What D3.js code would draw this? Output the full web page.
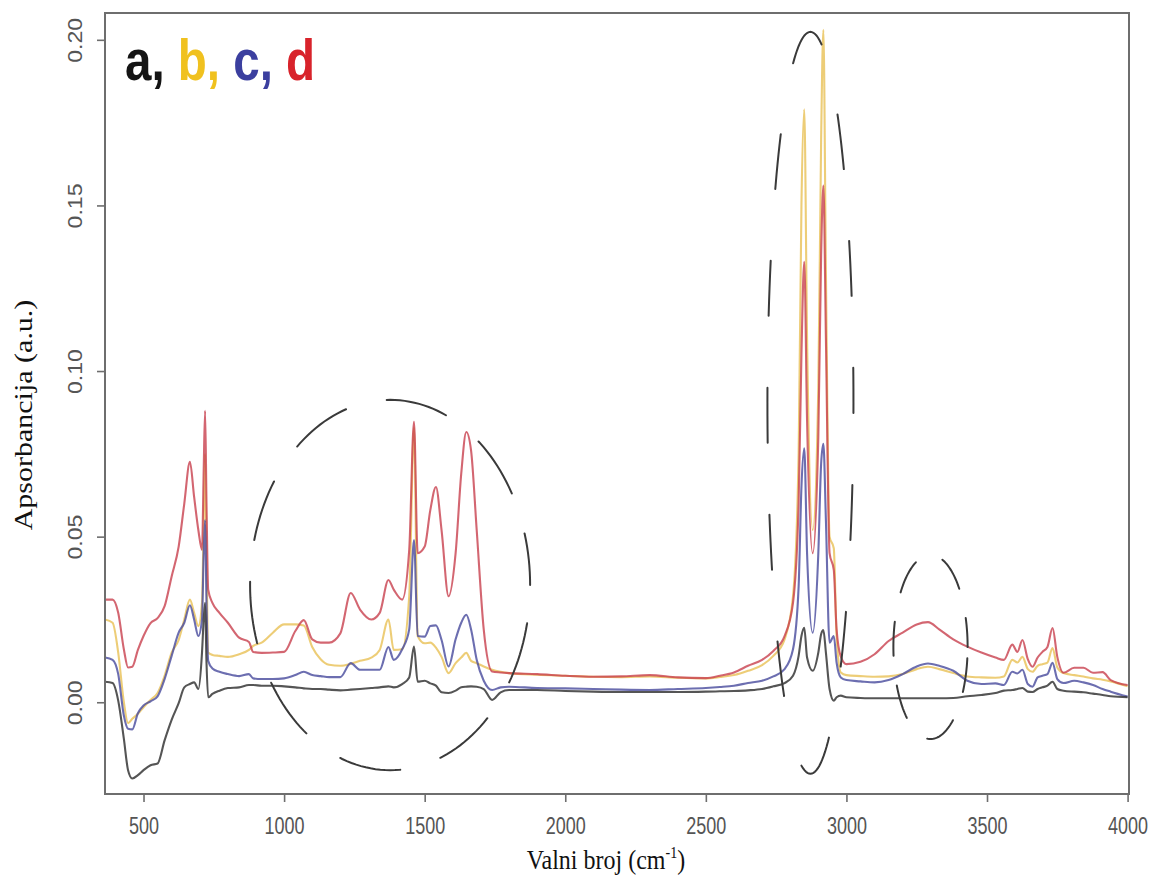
<!DOCTYPE html>
<html>
<head>
<meta charset="utf-8">
<script src="https://cdn.jsdelivr.net/npm/d3@7"></script>
<style>
  html, body { margin: 0; padding: 0; background: #fff; }
  svg { display: block; }
</style>
</head>
<body>
<svg id="chart" width="1153" height="881"></svg>
<script>
// ---------------- DATA ----------------
const wavenumbers = [
  363, 390, 410, 430, 445, 460, 480, 500, 525, 550,
  575, 600, 625, 645, 665, 680, 695, 708, 714, 719,
  724, 730, 745, 770, 800, 840, 875, 890, 920, 960,
  1000, 1040, 1070, 1100, 1130, 1160, 1200, 1237, 1270, 1310,
  1340, 1371, 1390, 1420, 1445, 1462, 1475, 1500, 1520, 1540,
  1560, 1585, 1610, 1630, 1648, 1665, 1685, 1710, 1740, 1770,
  1800, 1900, 2000, 2100, 2200, 2300, 2400, 2500, 2550, 2600,
  2650, 2700, 2740, 2780, 2810, 2830, 2840, 2850, 2860, 2880,
  2900, 2910, 2918, 2927, 2940, 2955, 2965, 2980, 3000, 3050,
  3100, 3150, 3200, 3250, 3290, 3330, 3380, 3430, 3480, 3530,
  3560, 3590, 3608, 3626, 3645, 3662, 3680, 3697, 3715, 3733,
  3750, 3772, 3810, 3843, 3877, 3911, 3940, 4000
];

const seriesA = [ // black
  .0062, .0058, .0005, -.011, -.0205, -.023, -.022, -.0205, -.019, -.0185,
  -.0115, -.0053, -.0003, .0045, .0055, .006, .004, .015, .025, .030,
  .012, .0015, .0025, .0035, .0043, .0045, .0052, .0052, .005, .005,
  .0048, .0045, .0042, .004, .004, .0038, .0036, .0038, .004, .0043,
  .0045, .0048, .0045, .0055, .0075, .0168, .0062, .0065, .0057, .005,
  .003, .0028, .0035, .0045, .0047, .0048, .0047, .004, .0007, .003,
  .0037, .0037, .0034, .0032, .0031, .0031, .0031, .0032, .0033, .0034,
  .0036, .004, .0048, .0058, .008, .014, .020, .0225, .0135, .0095,
  .015, .0205, .0218, .015, .004, .0005, .0015, .002, .0015, .0013,
  .0012, .0012, .0012, .0012, .0012, .0012, .0013, .0018, .0022, .0028,
  .0035, .0037, .004, .0043, .0032, .0031, .004, .0045, .005, .0062,
  .004, .0035, .0032, .003, .0026, .0022, .0018, .0015
];

const seriesB = [ // yellow
  .025, .024, .015, .000, -.0063, -.005, -.0035, -.0015, .0007, .0028,
  .008, .015, .0188, .025, .031, .027, .023, .030, .055, .075,
  .045, .015, .0143, .014, .0137, .0145, .0158, .017, .018, .021,
  .0235, .0235, .0232, .0167, .013, .0113, .011, .0116, .0125, .0135,
  .0158, .025, .0158, .016, .032, .083, .020, .0178, .018, .0165,
  .0137, .0088, .0118, .0135, .0149, .0125, .0118, .0108, .0098, .0092,
  .0088, .0083, .008, .0077, .0076, .0078, .0074, .0072, .0076, .0082,
  .0095, .0112, .014, .019, .032, .075, .150, .179, .110, .052,
  .095, .170, .203, .130, .050, .0465, .020, .009, .0082, .0079,
  .0077, .0078, .0085, .010, .0107, .010, .0088, .0078, .0075, .0074,
  .0078, .0128, .012, .0137, .010, .0092, .011, .0115, .012, .0164,
  .0105, .0088, .0082, .0078, .0072, .0068, .0063, .0048
];

const seriesC = [ // blue
  .0135, .0128, .0085, -.004, -.008, -.0082, -.0033, -.001, .0003, .0018,
  .007, .014, .021, .024, .0293, .025, .020, .025, .045, .055,
  .030, .0125, .0102, .0092, .0085, .0079, .0085, .0072, .007, .007,
  .0072, .0082, .0092, .0082, .0079, .0076, .0076, .0118, .0098, .0098,
  .0098, .0167, .0128, .016, .022, .049, .020, .0198, .023, .0232,
  .0188, .0108, .019, .024, .0264, .022, .0128, .0065, .0037, .0045,
  .0047, .0043, .0042, .004, .0038, .0037, .004, .0043, .0046, .005,
  .0058, .0065, .0078, .010, .016, .035, .065, .0767, .045, .021,
  .045, .072, .078, .055, .018, .020, .012, .0075, .0067, .0063,
  .006, .0067, .0085, .0108, .0117, .011, .0095, .0065, .0055, .0057,
  .0052, .0092, .0087, .0098, .0055, .0047, .0075, .008, .0085, .0119,
  .007, .0058, .0065, .006, .0052, .004, .0032, .0017
];

const seriesD = [ // red
  .031, .031, .027, .016, .0105, .0107, .0158, .020, .0239, .0254,
  .029, .038, .047, .060, .0726, .062, .052, .046, .070, .088,
  .060, .034, .030, .027, .024, .0195, .0182, .0152, .0149, .015,
  .0152, .0215, .0248, .019, .018, .018, .0208, .033, .028, .025,
  .027, .0369, .034, .031, .046, .0847, .045, .047, .058, .065,
  .052, .032, .045, .069, .0816, .076, .052, .022, .0093, .009,
  .0088, .0085, .008, .0077, .0078, .0082, .0075, .0073, .008, .009,
  .011, .0128, .0155, .020, .030, .060, .105, .133, .085, .045,
  .080, .135, .156, .110, .045, .040, .022, .0138, .0115, .0122,
  .0145, .0185, .021, .0235, .0242, .022, .019, .0168, .015, .0135,
  .0128, .0174, .0152, .0188, .013, .0107, .0135, .0152, .0167, .0224,
  .0137, .0089, .0104, .0104, .0089, .0091, .0067, .0052
];

const seriesNames = ["a", "b", "c", "d"];
const xTicks = [500, 1000, 1500, 2000, 2500, 3000, 3500, 4000];
const yTicks = [0.00, 0.05, 0.10, 0.15, 0.20];

// Highlighted regions (hand-drawn dashed ellipses), in data units
const regionCenterX = [1377, 2872, 3299];
const regionCenterY = [0.0354, 0.0904, 0.0167];
const regionRadiusX = [498, 153, 132];
const regionRadiusY = [0.0559, 0.112, 0.0278];

// ---------------- CHART ----------------
const svg = d3.select("#chart");
const plotLeft = 105, plotRight = 1129, plotTop = 13, plotBottom = 794;

const x = d3.scaleLinear().domain([363, 4005]).range([plotLeft, plotRight]);
const y = d3.scaleLinear().domain([-0.0277, 0.2081]).range([plotBottom, plotTop]);

svg.append("defs").append("clipPath").attr("id", "plotclip")
  .append("rect").attr("x", plotLeft).attr("y", plotTop)
  .attr("width", plotRight - plotLeft).attr("height", plotBottom - plotTop);

const series = [
  { name: "b", values: seriesB, color: "#e8c055" },
  { name: "d", values: seriesD, color: "#c8404e" },
  { name: "c", values: seriesC, color: "#474a9c" },
  { name: "a", values: seriesA, color: "#2a2a2a" }
];

const line = d3.line()
  .x(d => x(d[0]))
  .y(d => y(d[1]))
  .curve(d3.curveMonotoneX);

const plot = svg.append("g").attr("clip-path", "url(#plotclip)");

series.forEach(s => {
  const pts = wavenumbers.map((w, i) => [w, s.values[i]]);
  plot.append("path")
    .datum(pts)
    .attr("d", line)
    .attr("fill", "none")
    .attr("stroke", s.color)
    .attr("stroke-width", 2.1)
    .attr("stroke-opacity", 0.8)
    .attr("stroke-linejoin", "round");
});

// dashed ellipses
const dashes = ["62,42", "55,72", "34,30"];
const offsets = [10, 20, 5];
regionCenterX.forEach((cx, i) => {
  const pts = d3.range(0, 361, 2).map(a => {
    const t = a * Math.PI / 180;
    return [x(cx + regionRadiusX[i] * Math.cos(t)), y(regionCenterY[i] + regionRadiusY[i] * Math.sin(t))];
  });
  svg.append("path")
    .attr("d", d3.line()(pts))
    .attr("fill", "none")
    .attr("stroke", "#3a3a3a")
    .attr("stroke-width", 2)
    .attr("stroke-dasharray", dashes[i])
    .attr("stroke-dashoffset", offsets[i])
    .attr("stroke-linecap", "round");
});

// frame
svg.append("rect")
  .attr("x", plotLeft).attr("y", plotTop)
  .attr("width", plotRight - plotLeft).attr("height", plotBottom - plotTop)
  .attr("fill", "none").attr("stroke", "#6e6e6e").attr("stroke-width", 2);

// x axis
const xAxis = svg.append("g")
  .attr("transform", `translate(0,${plotBottom})`)
  .call(d3.axisBottom(x).tickValues(xTicks).tickSize(8).tickPadding(15).tickFormat(d3.format("d")));
xAxis.select(".domain").remove();
xAxis.selectAll("line").attr("stroke", "#6e6e6e").attr("stroke-width", 1.6);
xAxis.selectAll("text")
  .attr("font-family", "'Liberation Sans', Arial, sans-serif")
  .attr("font-size", 24)
  .attr("fill", "#555")
  .attr("transform", "scale(0.75,1)");

// y axis
const yAxis = svg.append("g")
  .attr("transform", `translate(${plotLeft},0)`)
  .call(d3.axisLeft(y).tickValues(yTicks).tickSize(8).tickFormat(d3.format(".2f")));
yAxis.select(".domain").remove();
yAxis.selectAll("line").attr("stroke", "#6e6e6e").attr("stroke-width", 1.6);
yAxis.selectAll("text")
  .attr("x", null).attr("dy", null)
  .attr("text-anchor", "middle")
  .attr("font-family", "'Liberation Sans', Arial, sans-serif")
  .attr("font-size", 21)
  .attr("fill", "#555")
  .attr("transform", "translate(-23,0) rotate(-90) scale(1.1,1)");

// axis titles
const xt = svg.append("text")
  .attr("text-anchor", "middle")
  .attr("font-family", "'Liberation Serif', 'Times New Roman', serif")
  .attr("font-size", 24)
  .attr("fill", "#111")
  .attr("transform", "translate(606,869) scale(1,1.15)");
xt.append("tspan").text("Valni broj (cm");
xt.append("tspan").attr("font-size", 14).attr("dy", -10).text("-1");
xt.append("tspan").attr("dy", 10).text(")");

svg.append("text")
  .attr("text-anchor", "middle")
  .attr("font-family", "'Liberation Serif', 'Times New Roman', serif")
  .attr("font-size", 25)
  .attr("fill", "#111")
  .attr("transform", "translate(32,415) rotate(-90) scale(1.2,1)")
  .text("Apsorbancija (a.u.)");

// legend letters
const legendColors = ["#141414", "#f0c11f", "#3b3f9f", "#d8232b"];
const lg = svg.append("text")
  .attr("font-family", "'Liberation Sans', Arial, sans-serif")
  .attr("font-weight", "bold")
  .attr("font-size", 48)
  .attr("transform", "translate(125,80) scale(0.99,1.2)");
seriesNames.forEach((n, i) => {
  lg.append("tspan").attr("fill", legendColors[i]).text(n + (i < 3 ? ", " : ""));
});
</script>
</body>
</html>
